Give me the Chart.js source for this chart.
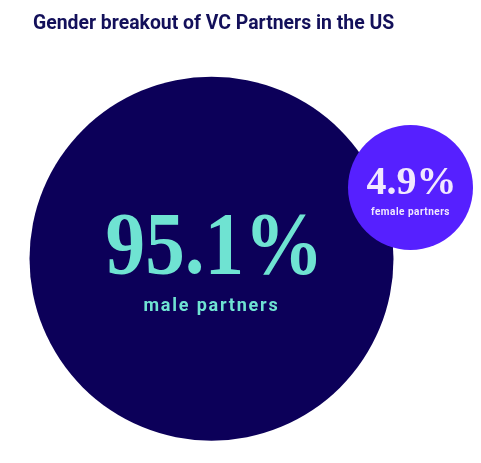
<!DOCTYPE html>
<html>
<head>
<meta charset="utf-8">
<script src="https://cdn.jsdelivr.net/npm/chart.js@4.4.1/dist/chart.umd.min.js"></script>
<style>
  html, body { margin: 0; padding: 0; background: #ffffff; }
  canvas { display: block; }
</style>
</head>
<body>
<canvas id="myChart" width="481" height="463"></canvas>
<script>
// values
var categories = ['male partners', 'female partners'];
var shares = [95.1, 4.9];
var bubbleX = [211.5, 410.5];
var bubbleY = [258.7, 187.5];
var bubbleR = [182, 62.5];

var fills = ['#0c0059', '#5620ff'];

var points = categories.map(function (c, i) {
    return { x: bubbleX[i], y: bubbleY[i], r: bubbleR[i] };
});

// how each bubble's text is drawn (offsets from bubble centre)
var labelStyle = [
    { valueSize: 88, squeeze: 0.9, valueDx: 3, valueDy: 14.3, nameSize: 18, nameDy: 52.3, spacing: '1.8px', color: '#6fe3d2' },
    { valueSize: 40, squeeze: 1, valueDx: 1, valueDy: 6.5, nameSize: 10, nameDy: 27.5, spacing: '0.5px', color: '#f1e8ff' }
];

var bubbleText = {
    id: 'bubbleText',
    afterDatasetsDraw: function (chart) {
        var ctx = chart.ctx;
        var meta = chart.getDatasetMeta(0);
        meta.data.forEach(function (el, i) {
            var s = labelStyle[i];
            ctx.save();
            ctx.fillStyle = s.color;
            ctx.textAlign = 'center';
            ctx.textBaseline = 'alphabetic';

            ctx.save();
            ctx.translate(el.x + s.valueDx, el.y + s.valueDy);
            ctx.scale(s.squeeze, 1);
            ctx.font = 'bold ' + s.valueSize + 'px "Liberation Serif", serif';
            ctx.fillText(shares[i] + '%', 0, 0);
            ctx.restore();

            ctx.font = 'bold ' + s.nameSize + 'px Roboto, sans-serif';
            if ('letterSpacing' in ctx) ctx.letterSpacing = s.spacing;
            ctx.fillText(categories[i], el.x, el.y + s.nameDy);
            ctx.restore();
        });
    }
};

var config = {
    type: 'bubble',
    data: {
        datasets: [{
            data: points,
            backgroundColor: fills,
            borderWidth: 0,
            hoverRadius: 0,
            hoverBorderWidth: 0,
            clip: false
        }]
    },
    options: {
        responsive: false,
        animation: false,
        events: [],
        layout: {
            autoPadding: false,
            padding: { left: 33, top: 0, right: 0, bottom: 0 }
        },
        scales: {
            x: { type: 'linear', min: 33, max: 481, display: false },
            y: { type: 'linear', min: 56, max: 463, reverse: true, display: false }
        },
        plugins: {
            legend: { display: false },
            tooltip: { enabled: false },
            title: {
                display: true,
                text: 'Gender breakout of VC Partners in the US',
                align: 'start',
                color: '#13105a',
                font: { family: 'Roboto', size: 19.4, weight: 'bold', lineHeight: 1.2 },
                padding: { top: 12.6, bottom: 20.1 }
            }
        }
    },
    plugins: [bubbleText]
};

var ctx = document.getElementById('myChart').getContext('2d');
window.myBubbles = new Chart(ctx, config);
</script>
</body>
</html>
